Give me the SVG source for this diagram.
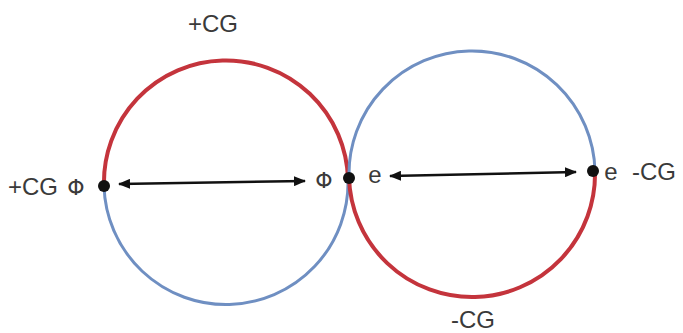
<svg xmlns="http://www.w3.org/2000/svg" width="683" height="333" viewBox="0 0 683 333">
<defs>
<style>
.red{fill:none;stroke:#c4343c;stroke-width:4}
.blue{fill:none;stroke:#6f8fc2;stroke-width:3}
.lbl{font-family:"Liberation Sans",Arial,sans-serif;font-size:24px;fill:#3a3a3a}
.sym{font-family:"DejaVu Sans",sans-serif;font-size:22px;fill:#3a3a3a}
.arr{stroke:#111;stroke-width:2.5;fill:none}
.dot{fill:#111}
</style>
<marker id="ah" viewBox="0 0 12 10" refX="11" refY="5" markerWidth="12" markerHeight="10" markerUnits="userSpaceOnUse" orient="auto-start-reverse">
<path d="M0,0 L12,5 L0,10 Z" fill="#111"/>
</marker>
</defs>
<rect width="683" height="333" fill="#fff"/>
<g id="left-circle">
<path class="blue" d="M348,179 A122,122 0 0 1 104,186"/>
<path class="red" d="M104,186 A122,122 0 1 1 348,179"/>
</g>
<g id="right-circle">
<path class="blue" d="M349,177 A123,123 0 0 1 595,171"/>
<path class="red" d="M595,171 A123,123 0 0 1 349,177"/>
</g>
<g id="connectors">
<line class="arr" x1="119" y1="184" x2="305" y2="181" marker-start="url(#ah)" marker-end="url(#ah)"/>
<line class="arr" x1="390" y1="176" x2="576" y2="172" marker-start="url(#ah)" marker-end="url(#ah)"/>
</g>
<g id="dot-left"><circle class="dot" cx="104" cy="186" r="6"/></g>
<g id="dot-mid"><circle class="dot" cx="349" cy="178" r="6"/></g>
<g id="dot-right"><circle class="dot" cx="593" cy="171" r="6"/></g>
<g id="labels">
<text class="lbl" x="213" y="32" text-anchor="middle">+CG</text>
<text class="lbl" x="8" y="195">+CG</text>
<text class="sym" x="76" y="195" text-anchor="middle">Φ</text>
<text class="sym" x="324" y="188" text-anchor="middle">Φ</text>
<text class="lbl" x="375" y="183" text-anchor="middle">e</text>
<text class="lbl" x="611" y="180" text-anchor="middle">e</text>
<text class="lbl" x="632" y="180">-CG</text>
<text class="lbl" x="473" y="328" text-anchor="middle">-CG</text>
</g>
</svg>
